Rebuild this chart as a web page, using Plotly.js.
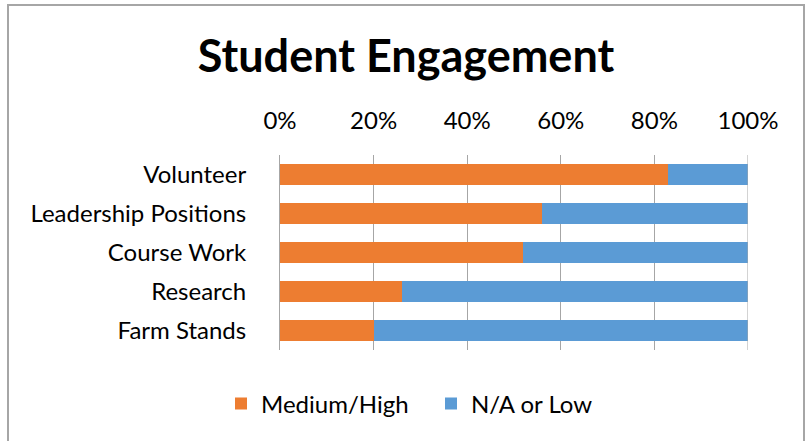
<!DOCTYPE html>
<html>
<head>
<meta charset="utf-8">
<script src="https://cdn.plot.ly/plotly-3.0.1.min.js"></script>
<style>
  html, body { margin: 0; padding: 0; background: #fff; }
  #wrap { position: relative; width: 812px; height: 441px; overflow: hidden; }
  #chart { position: absolute; left: 0; top: 0; width: 812px; height: 441px; }
  #frame { position: absolute; left: 7px; top: 4px; width: 798px; height: 460px;
           border: 2px solid #A6A6A6; box-sizing: border-box; pointer-events: none; }
</style>
</head>
<body>
<div id="wrap">
  <div id="chart"></div>
  <div id="frame"></div>
</div>
<script>
const categories = ["Volunteer", "Leadership Positions", "Course Work", "Research", "Farm Stands"];
const mediumHigh = [0.83, 0.56, 0.52, 0.26, 0.20];
const naOrLow = [0.17, 0.44, 0.48, 0.74, 0.80];
const xTickVals = [0, 0.2, 0.4, 0.6, 0.8, 1.0];
const xTickText = ["0%", "20%", "40%", "60%", "80%", "100%"];

const FONT = "Lato, 'Open Sans', sans-serif";

const traces = [
  { type: "bar", orientation: "h", name: "Medium/High", y: categories, x: mediumHigh,
    marker: { color: "#ED7D31" }, hoverinfo: "none" },
  { type: "bar", orientation: "h", name: "N/A or Low", y: categories, x: naOrLow,
    marker: { color: "#5B9BD5" }, hoverinfo: "none" }
];

const layout = {
  width: 812, height: 441,
  margin: { l: 280, r: 64, t: 155, b: 91 },
  paper_bgcolor: "rgba(0,0,0,0)",
  plot_bgcolor: "rgba(0,0,0,0)",
  barmode: "stack",
  bargap: 0.44,
  font: { family: FONT, color: "#000" },
  title: { text: "<b>Student Engagement</b>", font: { family: FONT, size: 45, color: "#000" },
           x: 0.5, xanchor: "center", y: 1 - 56/441, yanchor: "middle", yref: "container" },
  xaxis: { side: "top", range: [0, 1], tickvals: xTickVals, ticktext: xTickText,
           showgrid: true, gridcolor: "#A6A6A6", gridwidth: 1, zeroline: false,
           showline: false, ticks: "", tickfont: { size: 24, color: "#000" },
           ticklabelstandoff: 20, fixedrange: true },
  yaxis: { autorange: "reversed", type: "category", showgrid: false, zeroline: false,
           showline: true, linecolor: "#A6A6A6", linewidth: 1, ticks: "",
           tickfont: { size: 24, color: "#000" }, ticklabelstandoff: 28, fixedrange: true },
  showlegend: true,
  legend: { orientation: "h", x: (221 - 280) / 468, xanchor: "left",
            y: (350 - 404) / 195, yanchor: "middle",
            font: { size: 24, color: "#000" }, entrywidth: 165, entrywidthmode: "pixels",
            traceorder: "normal", bgcolor: "rgba(0,0,0,0)" },
  shapes: [
    { type: "line", xref: "x", yref: "paper", x0: 1, x1: 1, y0: 0, y1: 1,
      line: { color: "#A6A6A6", width: 1 } }
  ]
};

Plotly.newPlot("chart", traces, layout, { staticPlot: true, displayModeBar: false });
</script>
</body>
</html>
